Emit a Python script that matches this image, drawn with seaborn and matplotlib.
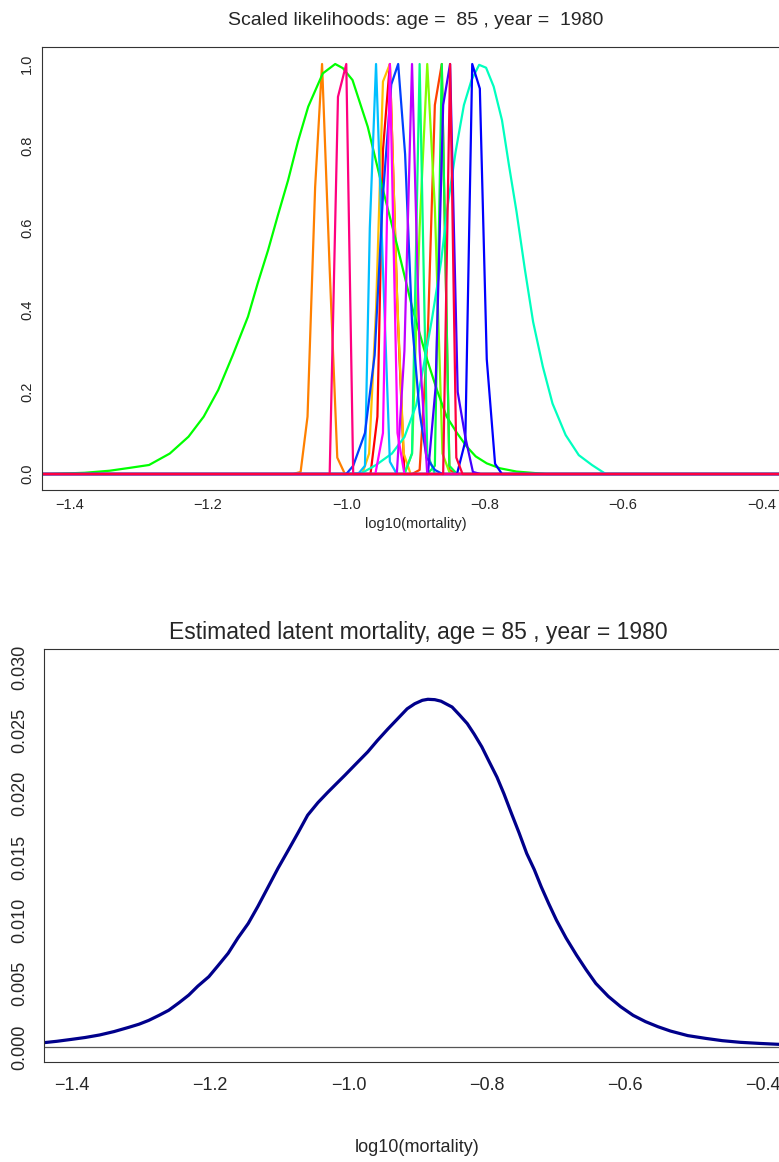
import numpy as np
import pandas as pd
import matplotlib
matplotlib.use("Agg")
import matplotlib.pyplot as plt
import seaborn as sns

# ---- data: scaled likelihood curves (colour -> x, y) ----
lik_colors = ["#FF0000", "#FF4000", "#FF8000", "#FFBF00", "#80FF00", "#00FF00",
              "#00FF40", "#00FF80", "#00FFBF", "#00BFFF", "#0040FF", "#0000FF",
              "#4000FF", "#BF00FF", "#FF00FF", "#FF0080", "#FF0040"]

lik_x = [
    [-0.965, -0.955, -0.947, -0.937, -0.926, -0.916],
    [-0.905, -0.894, -0.882, -0.872, -0.862, -0.851, -0.840],
    [-1.077, -1.066, -1.056, -1.045, -1.035, -1.024, -1.013, -1.002],
    [-0.977, -0.967, -0.957, -0.947, -0.937, -0.927, -0.917, -0.907],
    [-0.916, -0.905, -0.894, -0.883, -0.872, -0.861, -0.850],
    [-1.428, -1.378, -1.342, -1.313, -1.285, -1.255, -1.228, -1.206, -1.185, -1.164,
     -1.142, -1.128, -1.113, -1.099, -1.084, -1.070, -1.055, -1.034, -1.016, -1.005,
     -0.991, -0.969, -0.948, -0.926, -0.905, -0.883, -0.869, -0.855, -0.840, -0.826,
     -0.813, -0.797, -0.778, -0.754, -0.711],
    [-0.883, -0.872, -0.862, -0.851, -0.840],
    [-0.916, -0.905, -0.894, -0.883, -0.872],
    [-1.0, -0.977, -0.957, -0.934, -0.916, -0.899, -0.888, -0.876, -0.863, -0.854,
     -0.842, -0.830, -0.819, -0.808, -0.798, -0.787, -0.775, -0.765, -0.754, -0.742,
     -0.730, -0.716, -0.702, -0.683, -0.664, -0.645, -0.625],
    [-0.983, -0.973, -0.966, -0.957, -0.947, -0.937, -0.927],
    [-1.0, -0.990, -0.973, -0.959, -0.947, -0.935, -0.925, -0.915, -0.905, -0.894,
     -0.884, -0.872, -0.861],
    [-0.840, -0.828, -0.818, -0.807, -0.797, -0.785, -0.775],
    [-0.882, -0.871, -0.860, -0.850, -0.839, -0.828, -0.817, -0.806],
    [-0.927, -0.916, -0.905, -0.894, -0.883],
    [-0.958, -0.947, -0.937, -0.926, -0.916],
    [-1.024, -1.012, -1.0, -0.990],
    [-0.860, -0.850, -0.841, -0.832],
]

lik_y = [
    [0, 0.14, 0.79, 1.0, 0.4, 0],
    [0, 0.01, 0.35, 0.9, 1.0, 0.01, 0],
    [0, 0.005, 0.14, 0.7, 1.0, 0.5, 0.04, 0],
    [0, 0.05, 0.4, 0.957, 1.0, 0.45, 0.05, 0],
    [0, 0.05, 0.6, 1.0, 0.65, 0.05, 0],
    [0, 0.003, 0.008, 0.015, 0.022, 0.05, 0.091, 0.14, 0.205, 0.29,
     0.384, 0.465, 0.546, 0.63, 0.717, 0.81, 0.896, 0.977, 1.0, 0.99,
     0.961, 0.847, 0.70, 0.554, 0.408, 0.278, 0.205, 0.14, 0.1, 0.067,
     0.043, 0.026, 0.014, 0.006, 0],
    [0, 0.02, 1.0, 0.02, 0],
    [0, 0.05, 1.0, 0.05, 0],
    [0, 0.003, 0.022, 0.05, 0.09, 0.168, 0.266, 0.38, 0.518, 0.648,
     0.786, 0.9, 0.961, 0.998, 0.991, 0.945, 0.863, 0.754, 0.64, 0.50,
     0.371, 0.262, 0.172, 0.095, 0.046, 0.022, 0],
    [0, 0.02, 0.6, 1.0, 0.5, 0.03, 0],
    [0, 0.02, 0.10, 0.29, 0.68, 0.95, 1.0, 0.78, 0.37, 0.15,
     0.04, 0.01, 0],
    [0, 0.08, 1.0, 0.94, 0.28, 0.025, 0],
    [0, 0.21, 0.9, 1.0, 0.2, 0.09, 0.005, 0],
    [0, 0.3, 1.0, 0.3, 0],
    [0, 0.1, 1.0, 0.1, 0],
    [0, 0.92, 1.0, 0],
    [0, 1.0, 0.04, 0],
]

grid_lo, grid_hi = -1.5, -0.3

# ---- data: estimated latent mortality density ----
dens_x = [-1.441, -1.422, -1.401, -1.381, -1.360, -1.339, -1.318, -1.303, -1.289, -1.274,
          -1.260, -1.245, -1.231, -1.218, -1.202, -1.189, -1.174, -1.160, -1.145, -1.131,
          -1.116, -1.102, -1.087, -1.073, -1.059, -1.044, -1.030, -1.019, -1.005, -0.990,
          -0.972, -0.958, -0.943, -0.929, -0.915, -0.904, -0.893, -0.885, -0.875, -0.866,
          -0.850, -0.839, -0.828, -0.818, -0.807, -0.797, -0.785, -0.775, -0.764, -0.753,
          -0.742, -0.731, -0.721, -0.710, -0.699, -0.685, -0.670, -0.656, -0.642, -0.624,
          -0.606, -0.588, -0.570, -0.552, -0.534, -0.509, -0.483, -0.459, -0.433, -0.404,
          -0.377]
dens_y = [0.00034, 0.00045, 0.0006, 0.00075, 0.00095, 0.00122, 0.00155, 0.0018, 0.0021, 0.0025,
          0.0029, 0.0035, 0.0041, 0.0048, 0.00555, 0.0064, 0.0074, 0.0086, 0.00975, 0.0111,
          0.01265, 0.0141, 0.01554, 0.0169, 0.0183, 0.0193, 0.0201, 0.0207, 0.02146, 0.0223,
          0.0233, 0.0242, 0.0251, 0.0259, 0.0267, 0.0271, 0.02737, 0.02745, 0.02742, 0.0273,
          0.02684, 0.0262, 0.02553, 0.0247, 0.0237, 0.0226, 0.0213, 0.0200, 0.01843, 0.0169,
          0.01528, 0.0140, 0.01265, 0.0113, 0.01002, 0.0086, 0.00726, 0.0061, 0.00502, 0.0040,
          0.00318, 0.0025, 0.0020, 0.0016, 0.00126, 0.0009, 0.00068, 0.0005, 0.00037, 0.00028,
          0.00021]

age, year = 85, 1980
xticks = [-1.4, -1.2, -1.0, -0.8, -0.6, -0.4]
xlabels = ["\u2212%.1f" % abs(t) for t in xticks]

sns.set_style("white")
plt.rcParams['font.family'] = ['Liberation Sans', 'DejaVu Sans']
plt.rcParams['xtick.direction'] = 'out'
plt.rcParams['ytick.direction'] = 'out'

fig = plt.figure(figsize=(7.79, 11.62), dpi=100)

# ---- top panel ----
ax1 = fig.add_axes([42 / 779, 1 - 490 / 1162, 748 / 779, 443 / 1162])
for col, xs, ys in zip(lik_colors, lik_x, lik_y):
    d = pd.DataFrame({"x": [grid_lo] + xs + [grid_hi], "y": [0] + ys + [0]})
    sns.lineplot(data=d, x="x", y="y", color=col, linewidth=1.6, sort=False,
                 estimator=None, ax=ax1)
ax1.set_xlim(-1.4397, -0.3588)
ax1.set_ylim(-0.039, 1.0415)
ax1.set_xticks(xticks)
ax1.set_yticks([0.0, 0.2, 0.4, 0.6, 0.8, 1.0])
ax1.set_xticklabels(xlabels)
ax1.set_yticklabels(["0.0", "0.2", "0.4", "0.6", "0.8", "1.0"], rotation=90, va="center")
ax1.tick_params(length=4.5, width=0.8, color="black", labelsize=10.5, pad=1)
ax1.set_xlabel("log10(mortality)", fontsize=10.5, labelpad=4)
ax1.set_ylabel("")
ax1.set_title("Scaled likelihoods: age =  %d , year =  %d" % (age, year),
              fontsize=14, x=(416 - 42) / 748, pad=16)
for s in ax1.spines.values():
    s.set_color("#333333")
    s.set_linewidth(0.8)

# ---- bottom panel ----
ax2 = fig.add_axes([44 / 779, 1 - 1062 / 1162, 746 / 779, 413 / 1162])
ax2.axhline(0, color="#555555", linewidth=0.9)
sns.lineplot(x=dens_x, y=dens_y, color="#00008B", linewidth=2.3, sort=False,
             estimator=None, ax=ax2)
ax2.set_xlim(-1.4405, -0.361)
ax2.set_ylim(-0.001184, 0.03142)
ax2.set_xticks(xticks)
ax2.set_yticks([0.0, 0.005, 0.010, 0.015, 0.020, 0.025, 0.030])
ax2.set_xticklabels(xlabels)
ax2.set_yticklabels(["0.000", "0.005", "0.010", "0.015", "0.020", "0.025", "0.030"],
                    rotation=90, va="center")
ax2.tick_params(length=6, width=0.8, color="black", labelsize=13, pad=5)
ax2.set_xlabel("log10(mortality)", fontsize=13, labelpad=32)
ax2.set_ylabel("")
ax2.set_title("Estimated latent mortality, age = %d , year = %d" % (age, year),
              fontsize=16.5, x=(418 - 44) / 746, pad=7)
for s in ax2.spines.values():
    s.set_color("#333333")
    s.set_linewidth(0.8)

fig.savefig("out.png", dpi=100)
